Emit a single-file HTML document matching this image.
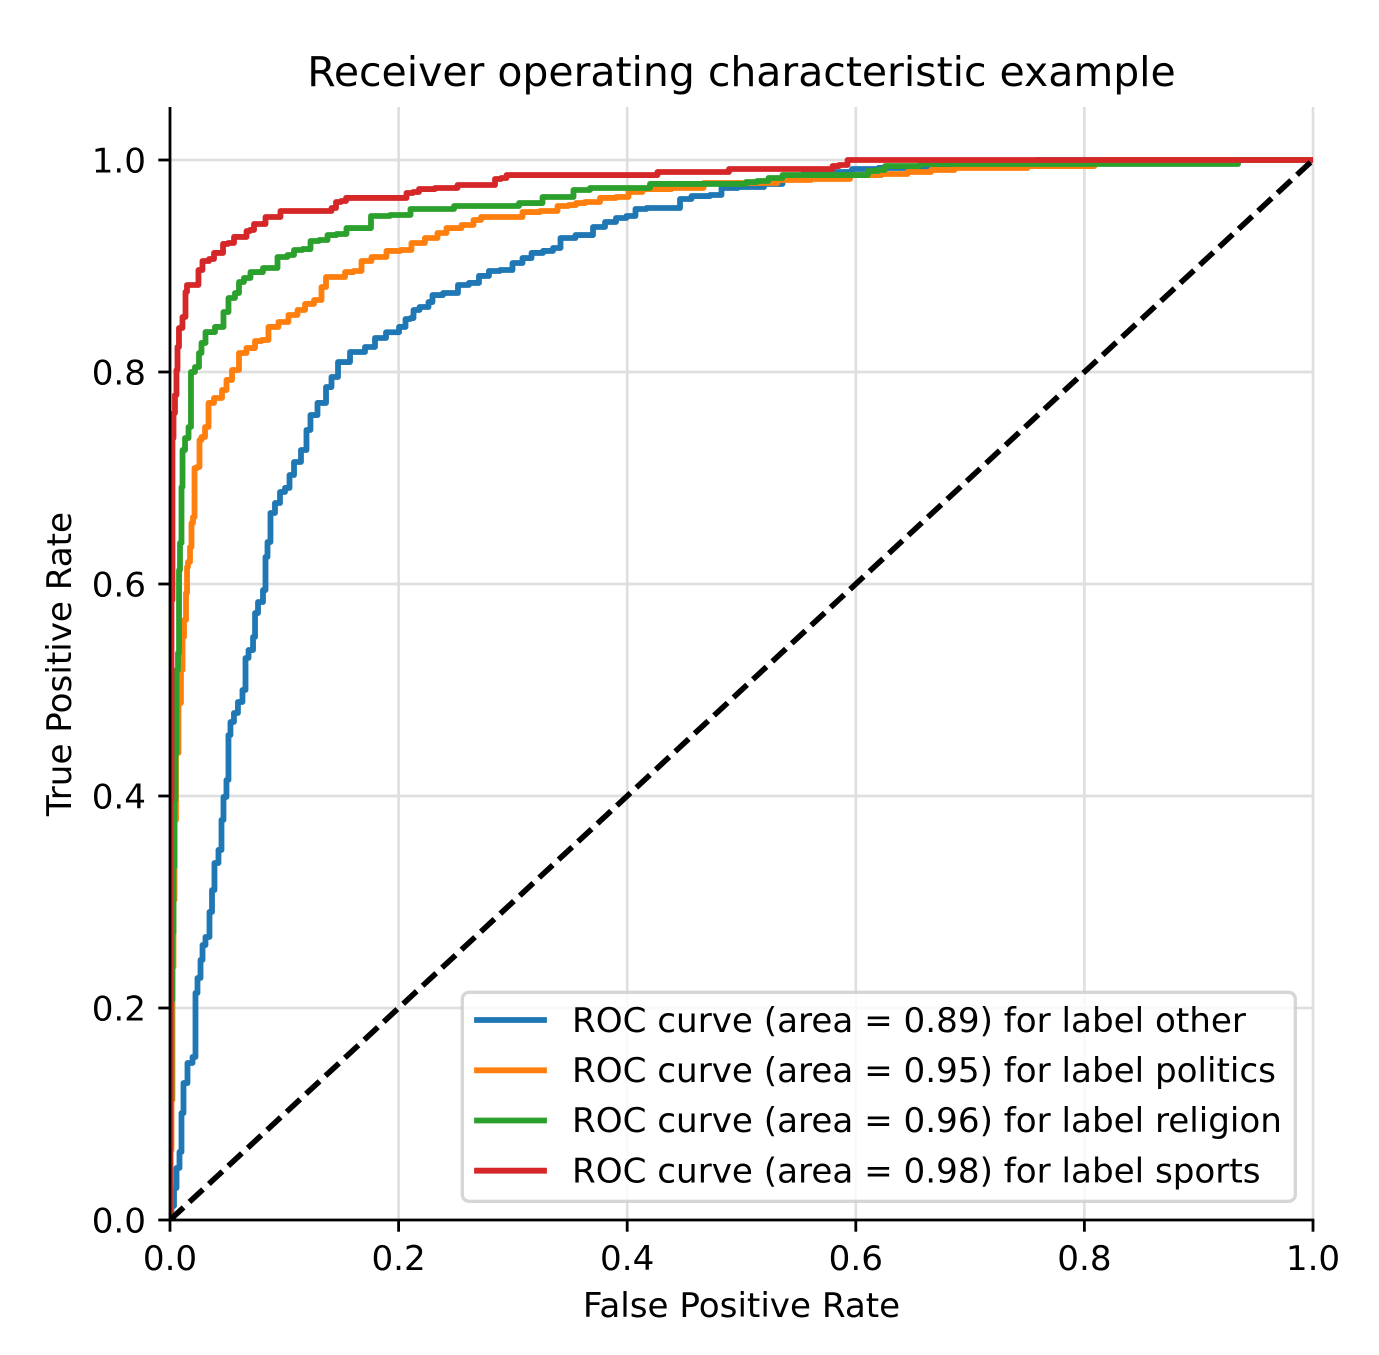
<!DOCTYPE html>
<html lang="en">
<head>
<meta charset="utf-8">
<title>Receiver operating characteristic example</title>
<style>
html,body{margin:0;padding:0;background:#fff;}
svg{display:block;}
text{font-family:"DejaVu Sans","Liberation Sans",sans-serif;fill:#000;}
</style>
</head>
<body>
<svg id="chart" xmlns="http://www.w3.org/2000/svg" width="1379" height="1355" viewBox="0 0 1379 1355">
<defs><clipPath id="plot-clip"><rect x="170" y="107" width="1143" height="1113"></rect></clipPath></defs>
<rect x="0" y="0" width="1379" height="1355" fill="#fff"></rect>
<g id="grid"></g>
<g id="series" clip-path="url(#plot-clip)"></g>
<g id="axes"></g>
<text x="741.5" y="86" font-size="40.95" text-anchor="middle">Receiver operating characteristic example</text>
<text x="741.5" y="1317" font-size="34.15" text-anchor="middle">False Positive Rate</text>
<text transform="translate(71,664) rotate(-90)" font-size="34.15" text-anchor="middle">True Positive Rate</text>
<g>
<rect x="462.3" y="992.3" width="833" height="209" rx="6.7" ry="6.7" fill="#fff" fill-opacity="0.8" stroke="#ccc" stroke-opacity="0.8" stroke-width="3.33"></rect>
<line x1="477" y1="1020" x2="544" y2="1020" stroke="#1f77b4" stroke-width="5.8" stroke-linecap="square"></line>
<text x="572" y="1032" font-size="34.15">ROC curve (area = 0.89) for label other</text>
<line x1="477" y1="1070.3" x2="544" y2="1070.3" stroke="#ff7f0e" stroke-width="5.8" stroke-linecap="square"></line>
<text x="572" y="1082" font-size="34.15">ROC curve (area = 0.95) for label politics</text>
<line x1="477" y1="1120.5" x2="544" y2="1120.5" stroke="#2ca02c" stroke-width="5.8" stroke-linecap="square"></line>
<text x="572" y="1132" font-size="34.15">ROC curve (area = 0.96) for label religion</text>
<line x1="477" y1="1170.7" x2="544" y2="1170.7" stroke="#d62728" stroke-width="5.8" stroke-linecap="square"></line>
<text x="572" y="1182.5" font-size="34.15">ROC curve (area = 0.98) for label sports</text>
</g>
</svg>
<script>
const xTickValues = [0, 0.2, 0.4, 0.6, 0.8, 1.0];
const yTickValues = [0, 0.2, 0.4, 0.6, 0.8, 1.0];
const xTickLabels = ["0.0", "0.2", "0.4", "0.6", "0.8", "1.0"];
const yTickLabels = ["0.0", "0.2", "0.4", "0.6", "0.8", "1.0"];

const otherFpr = [0,.0026,.0044,.0070,.0096,.0105,.0131,.0175,.0219,.0227,.0254,.0280,.0289,.0332,.0359,.0376,.0402,.0446,.0455,.0481,.0507,.0516,.0542,.0577,.0612,.0656,.0665,.0709,.0744,.0744,.0796,.0831,.0840,.0866,.0892,.0945,.0980,.1032,.1059,.1111,.1181,.1207,.1251,.1330,.1400,.1426,.1514,.1636,.1776,.1811,.1969,.2039,.2082,.2126,.2135,.2231,.2292,.2301,.2476,.2563,.2668,.2738,.2843,.2931,.3062,.3106,.3220,.3307,.3395,.3438,.3657,.3745,.3867,.3937,.4051,.4094,.4243,.4436,.4488,.4637,.4812,.4838,.5101,.5293,.5424,.5661,.5923,.6010,.6387,.7262,.7568,.7600,1];
const otherTpr = [0,.0132,.0302,.0491,.0642,.1009,.1292,.1481,.1538,.2142,.2283,.2453,.2594,.2670,.2906,.3113,.3368,.3491,.3774,.3991,.4151,.4575,.4698,.4783,.4887,.5000,.5302,.5377,.5500,.5726,.5830,.5943,.6255,.6396,.6670,.6764,.6868,.6906,.7028,.7151,.7264,.7453,.7594,.7708,.7858,.7953,.8094,.8189,.8236,.8321,.8375,.8425,.8500,.8509,.8585,.8613,.8660,.8726,.8745,.8821,.8840,.8906,.8953,.8962,.9028,.9075,.9123,.9142,.9170,.9264,.9292,.9368,.9415,.9453,.9472,.9538,.9547,.9547,.9632,.9660,.9670,.9736,.9745,.9774,.9830,.9877,.9887,.9915,.9925,.9934,.9943,1,1];

const politicsFpr = [0,.0009,.0017,.0026,.0035,.0044,.0061,.0087,.0105,.0114,.0131,.0149,.0149,.0166,.0184,.0192,.0210,.0219,.0254,.0262,.0289,.0324,.0350,.0420,.0490,.0499,.0586,.0621,.0717,.0770,.0831,.0892,.1006,.1067,.1164,.1199,.1321,.1330,.1400,.1514,.1549,.1662,.1689,.1837,.1951,.2082,.2143,.2318,.2362,.2476,.2625,.2686,.2756,.3045,.3123,.3351,.3430,.3543,.3561,.3701,.3823,.3981,.4042,.4226,.4549,.4786,.5249,.5381,.5836,.6063,.6387,.6518,.6798,.6929,.8075,.8100,1];
const politicsTpr = [0,.0660,.1132,.2387,.3019,.3774,.4406,.4877,.5189,.5500,.5660,.5915,.6160,.6208,.6349,.6575,.6632,.7094,.7104,.7358,.7387,.7481,.7708,.7755,.7830,.7925,.8019,.8179,.8226,.8292,.8302,.8425,.8472,.8538,.8585,.8642,.8679,.8802,.8896,.8896,.8943,.8953,.9047,.9085,.9142,.9151,.9217,.9264,.9311,.9358,.9387,.9434,.9462,.9462,.9509,.9519,.9566,.9575,.9594,.9604,.9642,.9651,.9698,.9726,.9736,.9783,.9783,.9811,.9821,.9858,.9868,.9887,.9906,.9925,.9943,1,1];

const religionFpr = [0,.0009,.0017,.0026,.0035,.0044,.0052,.0061,.0079,.0079,.0096,.0105,.0114,.0149,.0175,.0192,.0245,.0262,.0289,.0332,.0455,.0481,.0542,.0595,.0612,.0682,.0726,.0901,.0980,.1076,.1094,.1225,.1234,.1374,.1382,.1531,.1557,.1750,.1767,.2082,.2126,.2450,.2520,.3045,.3062,.3237,.3281,.3517,.3543,.3657,.3692,.4182,.4217,.5031,.5048,.5223,.5249,.5354,.5363,.6063,.6150,.6238,.6273,.6850,.9344,.9344,1];
const religionTpr = [0,.1132,.2075,.2708,.3330,.3962,.4406,.5189,.5349,.6132,.6387,.6915,.7264,.7377,.7481,.8000,.8047,.8179,.8274,.8377,.8425,.8566,.8698,.8745,.8849,.8887,.8943,.8981,.9085,.9104,.9151,.9160,.9236,.9245,.9292,.9302,.9358,.9358,.9472,.9481,.9538,.9538,.9566,.9566,.9594,.9594,.9651,.9651,.9717,.9717,.9736,.9736,.9774,.9774,.9792,.9802,.9830,.9830,.9858,.9858,.9896,.9906,.9943,.9962,.9962,1,1];

const sportsFpr = [0,0,.0009,.0017,.0026,.0035,.0052,.0061,.0070,.0087,.0131,.0140,.0157,.0236,.0262,.0306,.0376,.0394,.0464,.0464,.0551,.0569,.0665,.0674,.0726,.0744,.0831,.0840,.0962,.0971,.1382,.1444,.1461,.1531,.1549,.2056,.2082,.2170,.2187,.2450,.2581,.2826,.2861,.2931,.2957,.4261,.4269,.4882,.4899,.5792,.5801,.5906,.5949,1];
const sportsTpr = [0,.2075,.3962,.5849,.7377,.7613,.7783,.8019,.8236,.8415,.8519,.8755,.8821,.8821,.8962,.9047,.9066,.9123,.9123,.9208,.9217,.9274,.9274,.9330,.9340,.9396,.9396,.9462,.9462,.9519,.9519,.9547,.9604,.9613,.9642,.9642,.9689,.9698,.9726,.9736,.9764,.9764,.9821,.9830,.9858,.9858,.9887,.9887,.9915,.9915,.9943,.9953,1,1];

const chanceFpr = [0, 1];
const chanceTpr = [0, 1];

const SVG_NS = 'http://www.w3.org/2000/svg';
const xScale = function (v) { return 170 + v * 1143; };
const yScale = function (v) { return 1220 - v * 1060; };

function make(tag, parent, attrs) {
  const el = document.createElementNS(SVG_NS, tag);
  Object.keys(attrs).forEach(function (k) { el.setAttribute(k, attrs[k]); });
  parent.appendChild(el);
  return el;
}

const gridG = document.getElementById('grid');
const seriesG = document.getElementById('series');
const axesG = document.getElementById('axes');

xTickValues.forEach(function (v) {
  const g = make('line', gridG, { x1: xScale(v), x2: xScale(v), y1: 107, y2: 1220, stroke: '#dfdfdf', 'stroke-width': 2.67 });
  
  
});
yTickValues.forEach(function (v) {
  const g = make('line', gridG, { x1: 170, x2: 1313, y1: yScale(v), y2: yScale(v), stroke: '#dfdfdf', 'stroke-width': 2.67 });
  
  
});

function drawCurve(xs, ys, color) {
  let d = 'M' + xScale(xs[0]).toFixed(2) + ' ' + yScale(ys[0]).toFixed(2);
  for (let i = 1; i < xs.length; i++) {
    const xa = xScale(xs[i - 1]);
    const xb = xScale(xs[i]);
    const mid = (xa + xb) / 2;
    d += 'H' + mid.toFixed(2) + 'V' + yScale(ys[i]).toFixed(2) + 'H' + xb.toFixed(2);
  }
  return make('path', seriesG, { d: d, fill: 'none', stroke: color, 'stroke-width': 5.8, 'stroke-linejoin': 'round', 'stroke-linecap': 'square' });
}

const curveOther = drawCurve(otherFpr, otherTpr, '#1f77b4');


const curvePolitics = drawCurve(politicsFpr, politicsTpr, '#ff7f0e');


const curveReligion = drawCurve(religionFpr, religionTpr, '#2ca02c');


const curveSports = drawCurve(sportsFpr, sportsTpr, '#d62728');


const chanceLine = make('polyline', seriesG, {
  points: chanceFpr.map(function (x, i) { return xScale(x) + ',' + yScale(chanceTpr[i]); }).join(' '),
  fill: 'none', stroke: '#000', 'stroke-width': 5.6, 'stroke-dasharray': '18.5 8'
});



const leftSpine = make('line', axesG, { x1: 170, x2: 170, y1: 107, y2: 1221.3, stroke: '#000', 'stroke-width': 2.8 });


const bottomSpine = make('line', axesG, { x1: 168.7, x2: 1314.3, y1: 1220, y2: 1220, stroke: '#000', 'stroke-width': 2.8 });



xTickValues.forEach(function (v, i) {
  const t = make('line', axesG, { x1: xScale(v), x2: xScale(v), y1: 1220, y2: 1231.7, stroke: '#000', 'stroke-width': 2.8 });
  
  
  const l = make('text', axesG, { x: xScale(v), y: 1270, 'font-size': 34.15, 'text-anchor': 'middle' });
  l.textContent = xTickLabels[i];
  
  
});
yTickValues.forEach(function (v, i) {
  const t = make('line', axesG, { x1: 158.3, x2: 170, y1: yScale(v), y2: yScale(v), stroke: '#000', 'stroke-width': 2.8 });
  
  
  const l = make('text', axesG, { x: 146, y: yScale(v) + 12.4, 'font-size': 34.15, 'text-anchor': 'end' });
  l.textContent = yTickLabels[i];
  
  
});
</script>
</body>
</html>
